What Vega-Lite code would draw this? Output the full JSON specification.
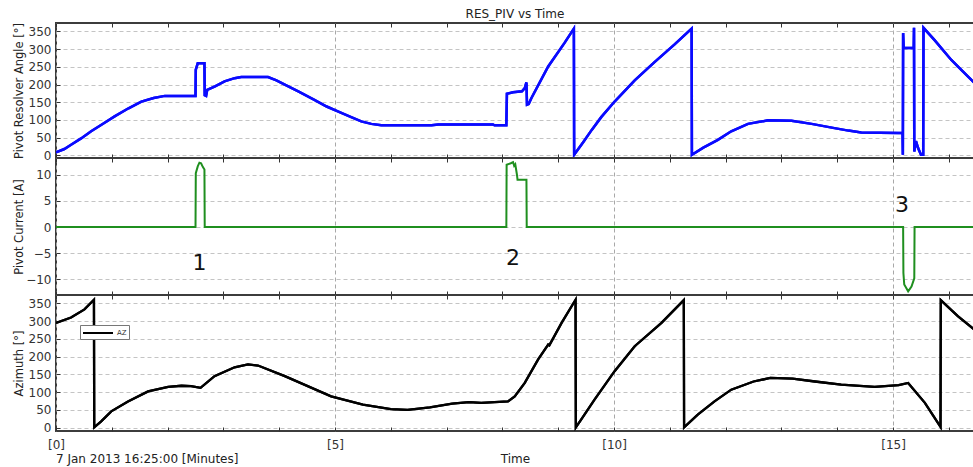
{
  "$schema": "https://vega.github.io/schema/vega-lite/v6.json",
  "padding": {"left": 11, "top": 8, "right": 0, "bottom": 0},
  "background": "white",
  "spacing": 0,
  "bounds": "flush",
  "title": {"text": "RES_PIV vs Time", "anchor": "middle", "frame": "group", "fontSize": 12, "fontWeight": "normal", "color": "#222222", "offset": 0, "font": "DejaVu Sans"},
  "config": {
    "font": "DejaVu Sans",
    "view": {"stroke": "#3c3c3c", "strokeWidth": 2},
    "axisY": {"grid": true, "gridDash": [4, 3], "gridColor": "#c4c4c4", "domain": false, "tickSize": -4, "tickColor": "#333333", "labelFontSize": 12, "labelColor": "#333333", "labelPadding": 9, "titleFontSize": 11.5, "titleFontWeight": "normal", "titleColor": "#222222", "titleX": -32}
  },
  "datasets": {
    "res": [
      {"t": 0, "v": 9}, {"t": 0.15, "v": 18}, {"t": 0.27, "v": 30}, {"t": 0.45, "v": 48}, {"t": 0.63, "v": 68},
      {"t": 0.85, "v": 90}, {"t": 1.05, "v": 110}, {"t": 1.3, "v": 133}, {"t": 1.53, "v": 152}, {"t": 1.75, "v": 162},
      {"t": 1.95, "v": 168}, {"t": 2.5, "v": 168}, {"t": 2.505, "v": 242}, {"t": 2.54, "v": 260}, {"t": 2.66, "v": 260},
      {"t": 2.665, "v": 170}, {"t": 2.69, "v": 168}, {"t": 2.71, "v": 185}, {"t": 2.85, "v": 195}, {"t": 3.02, "v": 209},
      {"t": 3.2, "v": 218}, {"t": 3.32, "v": 221}, {"t": 3.8, "v": 221}, {"t": 3.95, "v": 212}, {"t": 4.1, "v": 200},
      {"t": 4.35, "v": 180}, {"t": 4.63, "v": 157}, {"t": 4.85, "v": 138}, {"t": 5.05, "v": 124}, {"t": 5.29, "v": 108},
      {"t": 5.47, "v": 96}, {"t": 5.65, "v": 89}, {"t": 5.83, "v": 85}, {"t": 6.73, "v": 85}, {"t": 6.85, "v": 87},
      {"t": 7.83, "v": 87}, {"t": 7.86, "v": 85}, {"t": 8.07, "v": 85}, {"t": 8.08, "v": 174}, {"t": 8.19, "v": 178},
      {"t": 8.35, "v": 181}, {"t": 8.4, "v": 190}, {"t": 8.43, "v": 206}, {"t": 8.44, "v": 143}, {"t": 8.47, "v": 145},
      {"t": 8.52, "v": 162}, {"t": 8.82, "v": 251}, {"t": 9.11, "v": 317}, {"t": 9.28, "v": 358}, {"t": 9.285, "v": 2},
      {"t": 9.45, "v": 38}, {"t": 9.6, "v": 72}, {"t": 9.77, "v": 108}, {"t": 10.01, "v": 152}, {"t": 10.37, "v": 212},
      {"t": 10.73, "v": 264}, {"t": 11.09, "v": 314}, {"t": 11.39, "v": 358}, {"t": 11.395, "v": 2}, {"t": 11.6, "v": 22},
      {"t": 11.86, "v": 44}, {"t": 12.1, "v": 68}, {"t": 12.4, "v": 89}, {"t": 12.76, "v": 99}, {"t": 13.18, "v": 98},
      {"t": 13.54, "v": 89}, {"t": 13.95, "v": 77}, {"t": 14.2, "v": 70}, {"t": 14.43, "v": 65}, {"t": 15.09, "v": 63},
      {"t": 15.17, "v": 63}, {"t": 15.175, "v": 2}, {"t": 15.18, "v": 345}, {"t": 15.19, "v": 303}, {"t": 15.37, "v": 303},
      {"t": 15.375, "v": 360}, {"t": 15.38, "v": 11}, {"t": 15.41, "v": 40}, {"t": 15.45, "v": 20}, {"t": 15.5, "v": 2},
      {"t": 15.54, "v": 2}, {"t": 15.545, "v": 360}, {"t": 15.74, "v": 326}, {"t": 16.04, "v": 270}, {"t": 16.2, "v": 245},
      {"t": 16.45, "v": 206}
    ],
    "cur": [
      {"t": 0, "v": 0}, {"t": 2.5, "v": 0}, {"t": 2.505, "v": 10.3}, {"t": 2.54, "v": 11.6}, {"t": 2.57, "v": 12.3},
      {"t": 2.6, "v": 12.2}, {"t": 2.63, "v": 11.5}, {"t": 2.66, "v": 11}, {"t": 2.665, "v": 0}, {"t": 8.07, "v": 0},
      {"t": 8.075, "v": 11.9}, {"t": 8.15, "v": 12.2}, {"t": 8.19, "v": 12.4}, {"t": 8.21, "v": 11.7}, {"t": 8.23, "v": 12},
      {"t": 8.26, "v": 10}, {"t": 8.27, "v": 9.06}, {"t": 8.43, "v": 9.06}, {"t": 8.435, "v": 0}, {"t": 15.18, "v": 0},
      {"t": 15.185, "v": -8.8}, {"t": 15.2, "v": -11}, {"t": 15.27, "v": -12.3}, {"t": 15.33, "v": -11.4}, {"t": 15.38, "v": -9.8},
      {"t": 15.385, "v": 0}, {"t": 16.45, "v": 0}
    ],
    "ann": [
      {"t": 2.57, "v": -6.9, "label": "1"},
      {"t": 8.19, "v": -5.9, "label": "2"},
      {"t": 15.16, "v": 4.3, "label": "3"}
    ],
    "az": [
      {"t": 0, "v": 295}, {"t": 0.27, "v": 310}, {"t": 0.51, "v": 333}, {"t": 0.68, "v": 360}, {"t": 0.685, "v": 1},
      {"t": 0.81, "v": 18}, {"t": 0.99, "v": 46}, {"t": 1.29, "v": 74}, {"t": 1.65, "v": 102}, {"t": 2.01, "v": 115},
      {"t": 2.25, "v": 118}, {"t": 2.42, "v": 117}, {"t": 2.59, "v": 112}, {"t": 2.84, "v": 145}, {"t": 3.2, "v": 170},
      {"t": 3.44, "v": 178}, {"t": 3.62, "v": 175}, {"t": 4.1, "v": 145}, {"t": 4.93, "v": 88}, {"t": 5.5, "v": 65},
      {"t": 6.0, "v": 52}, {"t": 6.3, "v": 50}, {"t": 6.7, "v": 57}, {"t": 7.1, "v": 68}, {"t": 7.4, "v": 72},
      {"t": 7.62, "v": 70}, {"t": 8.1, "v": 74}, {"t": 8.22, "v": 88}, {"t": 8.4, "v": 126}, {"t": 8.64, "v": 192},
      {"t": 8.82, "v": 234}, {"t": 8.84, "v": 232}, {"t": 9.06, "v": 295}, {"t": 9.31, "v": 360}, {"t": 9.315, "v": 1},
      {"t": 9.41, "v": 23}, {"t": 9.65, "v": 79}, {"t": 10.01, "v": 159}, {"t": 10.37, "v": 229}, {"t": 10.39, "v": 232},
      {"t": 10.85, "v": 295}, {"t": 11.25, "v": 359}, {"t": 11.255, "v": 1}, {"t": 11.5, "v": 37}, {"t": 11.8, "v": 74},
      {"t": 12.1, "v": 107}, {"t": 12.5, "v": 130}, {"t": 12.8, "v": 140}, {"t": 13.2, "v": 138}, {"t": 13.6, "v": 130},
      {"t": 14.07, "v": 121}, {"t": 14.67, "v": 115}, {"t": 15.1, "v": 120}, {"t": 15.27, "v": 126}, {"t": 15.57, "v": 70},
      {"t": 15.85, "v": 2}, {"t": 15.855, "v": 359}, {"t": 16.16, "v": 314}, {"t": 16.45, "v": 277}
    ]
  },
  "vconcat": [
    {
      "width": 918, "height": 135,
      "data": {"name": "res"},
      "layer": [
        {
          "mark": {"type": "line", "color": "#0a0aff", "strokeWidth": 2.5, "clip": true},
          "encoding": {
            "x": {"field": "t", "type": "quantitative", "scale": {"domain": [0, 16.45], "nice": false, "zero": false},
              "axis": {"orient": "bottom", "values": [0,1,2,3,4,5,6,7,8,9,10,11,12,13,14,15,16], "grid": true, "gridDash": [4, 3], "gridColor": "#a8a8a8", "gridOpacity": {"condition": {"test": "datum.value % 5 === 0", "value": 1}, "value": 0}, "labels": false, "tickSize": -4, "tickColor": "#333333", "domain": false, "title": null, "minExtent": 0, "maxExtent": 0}},
            "y": {"field": "v", "type": "quantitative", "scale": {"domain": [-7.3, 373.7], "nice": false, "zero": false},
              "axis": {"values": [0,50,100,150,200,250,300,350], "title": "Pivot Resolver Angle [°]"}}
          }
        },
        {
          "mark": {"type": "line", "color": "#0a0aff", "strokeWidth": 2.5, "clip": true},
          "encoding": {
            "x": {"field": "t", "type": "quantitative", "scale": {"domain": [0, 16.45], "nice": false, "zero": false},
              "axis": {"orient": "top", "values": [0,1,2,3,4,5,6,7,8,9,10,11,12,13,14,15,16], "grid": false, "labels": false, "tickSize": -4, "tickColor": "#333333", "domain": false, "title": null, "minExtent": 0, "maxExtent": 0}},
            "y": {"field": "v", "type": "quantitative", "scale": {"domain": [-7.3, 373.7], "nice": false, "zero": false},
              "axis": {"values": [0,50,100,150,200,250,300,350], "title": "Pivot Resolver Angle [°]"}}
          }
        }
      ]
    },
    {
      "width": 918, "height": 137,
      "layer": [
        {
          "data": {"name": "cur"},
          "mark": {"type": "line", "color": "#1f8f1f", "strokeWidth": 2, "clip": true},
          "encoding": {
            "x": {"field": "t", "type": "quantitative", "scale": {"domain": [0, 16.45], "nice": false, "zero": false},
              "axis": {"orient": "bottom", "values": [0,1,2,3,4,5,6,7,8,9,10,11,12,13,14,15,16], "grid": true, "gridDash": [4, 3], "gridColor": "#a8a8a8", "gridOpacity": {"condition": {"test": "datum.value % 5 === 0", "value": 1}, "value": 0}, "labels": false, "tickSize": -4, "tickColor": "#333333", "domain": false, "title": null, "minExtent": 0, "maxExtent": 0}},
            "y": {"field": "v", "type": "quantitative", "scale": {"domain": [-13, 13.2], "nice": false, "zero": false},
              "axis": {"values": [-10,-5,0,5,10], "title": "Pivot Current [A]"}}
          }
        },
        {
          "data": {"name": "ann"},
          "mark": {"type": "text", "fontSize": 22, "color": "#111111", "align": "center", "baseline": "middle", "font": "DejaVu Sans"},
          "encoding": {
            "x": {"field": "t", "type": "quantitative", "scale": {"domain": [0, 16.45], "nice": false, "zero": false},
              "axis": {"orient": "top", "values": [0,1,2,3,4,5,6,7,8,9,10,11,12,13,14,15,16], "grid": false, "labels": false, "tickSize": -4, "tickColor": "#333333", "domain": false, "title": null, "minExtent": 0, "maxExtent": 0}},
            "y": {"field": "v", "type": "quantitative", "scale": {"domain": [-13, 13.2], "nice": false, "zero": false},
              "axis": {"values": [-10,-5,0,5,10], "title": "Pivot Current [A]"}},
            "text": {"field": "label", "type": "nominal"}
          }
        }
      ]
    },
    {
      "width": 918, "height": 136,
      "title": {"text": "7 Jan 2013 16:25:00 [Minutes]", "orient": "bottom", "anchor": "start", "frame": "group", "fontSize": 12, "fontWeight": "normal", "color": "#222222", "offset": -10},
      "data": {"name": "az"},
      "layer": [
        {
          "mark": {"type": "line", "strokeWidth": 2.3, "clip": true},
          "encoding": {
            "x": {"field": "t", "type": "quantitative", "scale": {"domain": [0, 16.45], "nice": false, "zero": false},
              "axis": {"orient": "bottom", "values": [0,1,2,3,4,5,6,7,8,9,10,11,12,13,14,15,16], "grid": true, "gridDash": [4, 3], "gridColor": "#a8a8a8", "gridOpacity": {"condition": {"test": "datum.value % 5 === 0", "value": 1}, "value": 0}, "labels": true, "labelFlush": false, "labelExpr": "datum.value % 5 === 0 ? '[' + datum.value + ']' : ''", "labelFontSize": 12, "labelColor": "#333333", "labelPadding": 12, "tickSize": -4, "tickColor": "#333333", "domain": false, "title": "Time", "titleFontSize": 12, "titleFontWeight": "normal", "titleColor": "#222222", "titlePadding": 3}},
            "y": {"field": "v", "type": "quantitative", "scale": {"domain": [-9.3, 373.4], "nice": false, "zero": false},
              "axis": {"values": [0,50,100,150,200,250,300,350], "title": "Azimuth [°]"}},
            "color": {"datum": "AZ", "type": "nominal", "scale": {"domain": ["AZ"], "range": ["#000000"]},
              "legend": {"orient": "none", "legendX": 24, "legendY": 302, "title": null, "symbolType": "M-3,0H3", "symbolSize": 100, "symbolStrokeWidth": 2, "symbolOffset": 10, "labelOffset": 13, "labelFontSize": 7, "labelColor": "#333333", "fillColor": "#ffffff", "strokeColor": "#777777", "padding": 2}}
          }
        },
        {
          "mark": {"type": "line", "color": "#000000", "strokeWidth": 2.3, "clip": true},
          "encoding": {
            "x": {"field": "t", "type": "quantitative", "scale": {"domain": [0, 16.45], "nice": false, "zero": false},
              "axis": {"orient": "top", "values": [0,1,2,3,4,5,6,7,8,9,10,11,12,13,14,15,16], "grid": false, "labels": false, "tickSize": -4, "tickColor": "#333333", "domain": false, "title": null, "minExtent": 0, "maxExtent": 0}},
            "y": {"field": "v", "type": "quantitative", "scale": {"domain": [-9.3, 373.4], "nice": false, "zero": false},
              "axis": {"values": [0,50,100,150,200,250,300,350], "title": "Azimuth [°]"}}
          }
        }
      ]
    }
  ]
}
